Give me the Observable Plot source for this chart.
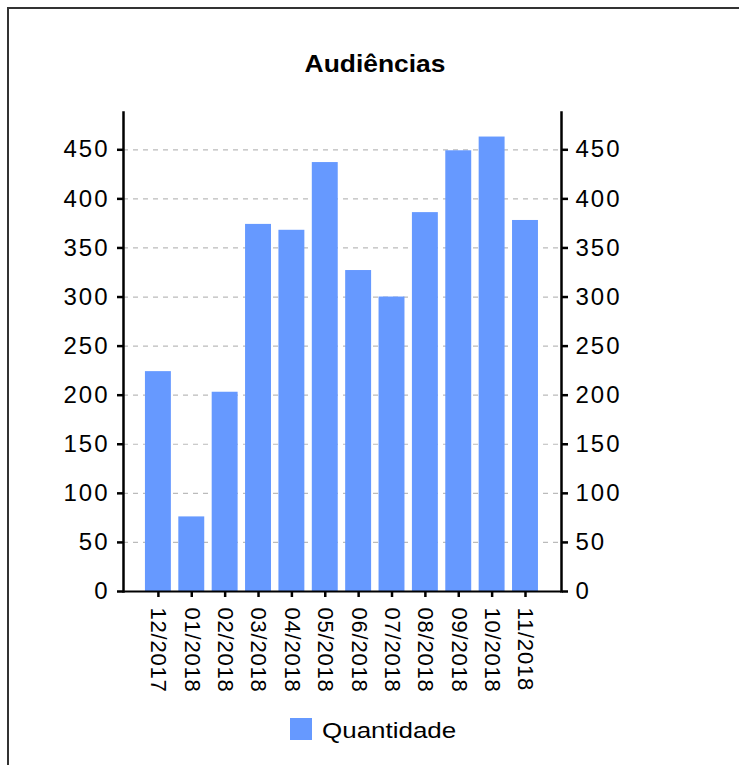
<!DOCTYPE html>
<html>
<head>
<meta charset="utf-8">
<script src="https://cdn.jsdelivr.net/npm/d3@7"></script>
<script src="https://cdn.jsdelivr.net/npm/@observablehq/plot@0.6"></script>
<style>
  html, body { margin: 0; padding: 0; background: #fff; }
  #page { position: relative; width: 739px; height: 765px; overflow: hidden; font-family: "Liberation Sans", Arial, Helvetica, sans-serif; }
  #border { position: absolute; left: 7px; top: 7px; width: 900px; height: 900px; border-left: 2px solid #333; border-top: 2px solid #333; }
  #title { position: absolute; left: 0; top: 52px; width: 750px; text-align: center; font-weight: bold; font-size: 24px; line-height: 24px; color: #000; }
  #title span { display: inline-block; transform: scaleX(1.1); }
  #legend { position: absolute; left: 290px; top: 718px; height: 22px; display: flex; align-items: flex-end; }
  #legend .sw { width: 22px; height: 22px; background: #6699ff; }
  #legend .lb { margin-left: 10px; font-size: 22px; line-height: 22px; transform: scaleX(1.18); transform-origin: left; color: #000; position: relative; top: 2px; }
  #chart { position: absolute; left: 0; top: 0; }
  #chart svg [aria-label="y-axis tick label"] text { letter-spacing: 2px; }
  #chart svg [aria-label="x-axis tick label"] text { letter-spacing: 0.8px; }
</style>
</head>
<body>
<div id="page">
  <div id="border"></div>
  <div id="chart"></div>
  <div id="title"><span>Audiências</span></div>
  <div id="legend"><div class="sw"></div><div class="lb">Quantidade</div></div>
</div>
<script>
const months = ["12/2017","01/2018","02/2018","03/2018","04/2018","05/2018","06/2018","07/2018","08/2018","09/2018","10/2018","11/2018"];
const quantidade = [224, 76, 203, 374, 368, 437, 327, 300, 386, 449, 463, 378];
const yTicks = [0, 50, 100, 150, 200, 250, 300, 350, 400, 450];
const seriesName = "Quantidade";
const barColor = "#6699ff";

const data = months.map((m, i) => ({month: m, value: quantidade[i]}));

const chart = Plot.plot({
  width: 739,
  height: 700,
  marginTop: 112,
  marginBottom: 109,
  marginLeft: 123,
  marginRight: 178,
  style: {fontFamily: "'Liberation Sans', Arial, Helvetica, sans-serif", background: "transparent", color: "#000"},
  x: {domain: months, padding: 0.223, round: false, insetLeft: 14.5, insetRight: 15.6, label: null},
  y: {domain: [0, 488], label: null},
  marks: [
    Plot.gridY(yTicks, {stroke: "#bbb", strokeOpacity: 1, strokeDasharray: "5,5", strokeWidth: 1.2}),
    Plot.barY(data, {x: "month", y: "value", fill: barColor}),
    Plot.ruleY([0], {stroke: "#000", strokeWidth: 2}),
    Plot.frame({anchor: "left", stroke: "#000", strokeWidth: 2.5}),
    Plot.frame({anchor: "right", stroke: "#000", strokeWidth: 2.5}),
    Plot.axisY(yTicks, {anchor: "left", tickSize: 6, tickPadding: 8, fontSize: 24, stroke: "#000", strokeWidth: 2.5, label: null}),
    Plot.axisY(yTicks, {anchor: "right", tickSize: 6, tickPadding: 8, fontSize: 24, stroke: "#000", strokeWidth: 2.5, label: null}),
    Plot.axisX({anchor: "bottom", tickRotate: 90, tickSize: 6, tickPadding: 10, fontSize: 22, stroke: "#000", strokeWidth: 2.5, label: null})
  ]
});
document.getElementById("chart").appendChild(chart);
</script>
</body>
</html>
